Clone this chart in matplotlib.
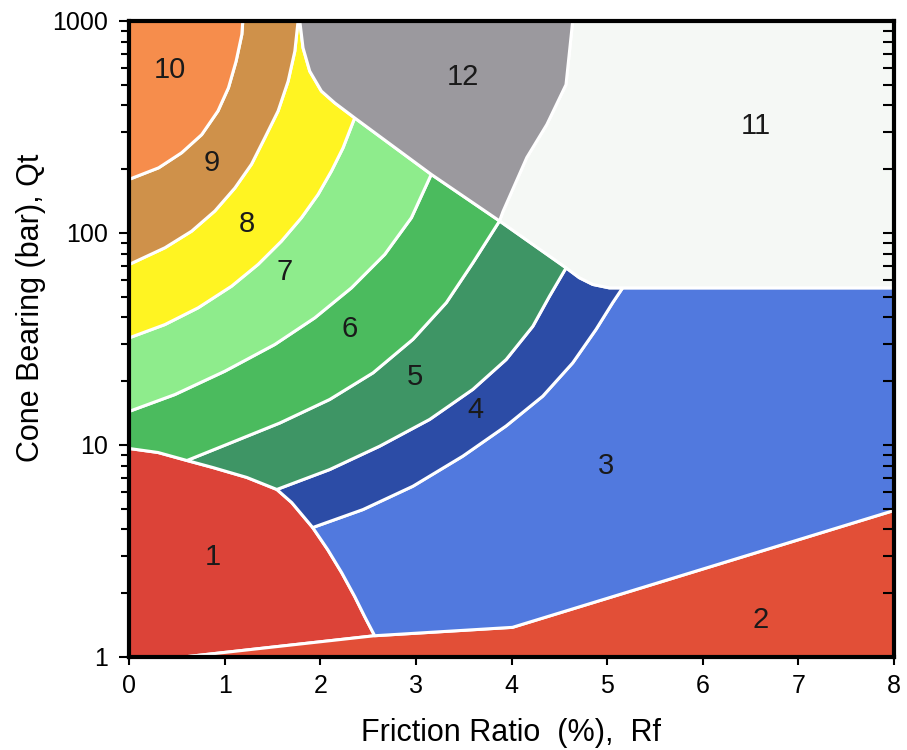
import numpy as np
import matplotlib
matplotlib.use("Agg")
import matplotlib.pyplot as plt
from matplotlib.ticker import FixedLocator, LogLocator, NullFormatter

plt.rcParams['font.family'] = ['Liberation Sans', 'DejaVu Sans']

# boundary curves, Rf (%) and Qt (bar)
rf_z1_top = [0.0, 0.303, 0.606, 0.877, 1.232, 1.546, 1.702, 1.921, 2.078, 2.224, 2.360, 2.465, 2.569]
qt_z1_top = [9.63, 9.22, 8.45, 7.83, 7.03, 6.17, 5.35, 4.08, 3.21, 2.50, 1.93, 1.55, 1.26]

rf_base = [0.57, 2.569, 4.01, 8.0]
qt_base = [1.0, 1.26, 1.38, 4.91]

rf_10_9 = [0.0, 0.31, 0.55, 0.76, 0.93, 1.04, 1.12, 1.18, 1.19]
qt_10_9 = [179, 203, 239, 291, 376, 484, 646, 864, 1000]

rf_9_8 = [0.0, 0.376, 0.655, 0.898, 1.107, 1.281, 1.420, 1.559, 1.664, 1.734, 1.768]
qt_9_8 = [71, 85.2, 102, 127, 163, 211, 281, 376, 520, 720, 1000]

rf_8_7 = [0.0, 0.376, 0.724, 1.072, 1.350, 1.594, 1.803, 1.977, 2.117, 2.238, 2.360]
qt_8_7 = [32.0, 37.0, 44.4, 56.1, 71.1, 91.5, 118, 152, 196, 252, 349]

rf_7_6 = [0.0, 0.480, 1.003, 1.525, 1.943, 2.326, 2.674, 2.953, 3.161]
qt_7_6 = [14.4, 17.3, 22.3, 29.8, 39.8, 55.1, 79.2, 118, 189]

rf_6_5 = [0.606, 1.055, 1.577, 2.099, 2.552, 2.969, 3.318, 3.596, 3.875]
qt_6_5 = [8.45, 10.2, 12.7, 16.4, 21.9, 31.5, 46.9, 72.3, 114]

rf_5_4 = [1.546, 2.099, 2.621, 3.144, 3.596, 3.944, 4.223, 4.397, 4.571]
qt_5_4 = [6.17, 7.66, 9.87, 13.2, 18.3, 25.3, 36.3, 50.3, 68.5]

rf_4_3 = [1.921, 2.447, 2.969, 3.491, 3.944, 4.327, 4.640, 4.884, 5.058, 5.162]
qt_4_3 = [4.08, 4.96, 6.39, 8.86, 12.3, 17.0, 24.4, 35.1, 46.9, 55.1]

rf_12_cusp = [1.786, 1.820, 1.890, 2.012, 2.151, 2.360]
qt_12_cusp = [1000, 747, 580, 467, 411, 349]

rf_12_low = [2.360, 3.161, 3.875]
qt_12_low = [349, 189, 114]

rf_12_11 = [4.64, 4.57, 4.37, 4.16, 3.91, 3.875]
qt_12_11 = [1000, 501, 325, 227, 126, 114]

rf_11_low = [3.875, 4.571, 4.710, 4.850, 5.023, 5.162, 8.0]
qt_11_low = [114, 68.5, 61.5, 57.2, 55.1, 55.1, 55.1]

zone_names = ['1', '2', '3', '4', '5', '6', '7', '8', '9', '10', '11', '12']
zone_colors = ['#dc4338', '#e24f37', '#5179de', '#2c4ca6', '#3e9565', '#4bbb5e',
               '#8eec8c', '#fff422', '#cf914a', '#f68d4c', '#f5f8f5', '#9b999e']
label_rf = [0.88, 6.61, 4.99, 3.62, 2.99, 2.31, 1.63, 1.23, 0.86, 0.43, 6.56, 3.49]
label_qt = [2.95, 1.49, 7.92, 14.7, 21.0, 35.1, 65.8, 110, 215, 590, 318, 547]


def seg(rf, qt, a=None, b=None, rev=False):
    pts = list(zip(rf, qt))[a:b]
    return pts[::-1] if rev else pts


polys = [
    # 1
    [(0.0, 1.0)] + seg(rf_z1_top, qt_z1_top) + [(rf_base[0], qt_base[0])],
    # 2
    seg(rf_base, qt_base) + [(8.0, 1.0)],
    # 3
    seg(rf_z1_top, qt_z1_top, 7) + seg(rf_base, qt_base, 1) + [(8.0, qt_11_low[-1])]
    + seg(rf_4_3, qt_4_3, rev=True),
    # 4
    seg(rf_z1_top, qt_z1_top, 5, 8) + seg(rf_4_3, qt_4_3) + seg(rf_11_low, qt_11_low, 1, 6, rev=True)
    + seg(rf_5_4, qt_5_4, rev=True),
    # 5
    seg(rf_z1_top, qt_z1_top, 2, 6) + seg(rf_5_4, qt_5_4) + seg(rf_11_low, qt_11_low, 0, 2, rev=True)
    + seg(rf_6_5, qt_6_5, rev=True),
    # 6
    seg(rf_z1_top, qt_z1_top, 0, 3) + seg(rf_6_5, qt_6_5) + seg(rf_12_low, qt_12_low, 1, None, rev=True)
    + seg(rf_7_6, qt_7_6, rev=True),
    # 7
    seg(rf_7_6, qt_7_6) + seg(rf_12_low, qt_12_low, 0, 2, rev=True) + seg(rf_8_7, qt_8_7, rev=True),
    # 8
    seg(rf_8_7, qt_8_7) + seg(rf_12_cusp, qt_12_cusp, rev=True) + seg(rf_9_8, qt_9_8, rev=True),
    # 9
    seg(rf_9_8, qt_9_8) + seg(rf_10_9, qt_10_9, rev=True),
    # 10
    seg(rf_10_9, qt_10_9) + [(0.0, 1000)],
    # 11
    [(rf_12_11[0], 1000), (8.0, 1000)] + seg(rf_11_low, qt_11_low, rev=True) + seg(rf_12_11, qt_12_11, rev=True),
    # 12
    seg(rf_12_cusp, qt_12_cusp) + seg(rf_12_low, qt_12_low, 1) + seg(rf_12_11, qt_12_11, rev=True),
]

fig = plt.figure(figsize=(9.07, 7.5), dpi=100)
ax = fig.add_axes([129 / 907, 1 - 657 / 750, 765 / 907, 636 / 750])
ax.set_yscale('log')

for pts, c in zip(polys, zone_colors):
    xs, ys = zip(*pts)
    ax.fill(xs, ys, facecolor=c, edgecolor='white', linewidth=2.2, joinstyle='round', zorder=1)

for name, x, y in zip(zone_names, label_rf, label_qt):
    ax.text(x, y, name, ha='center', va='center', fontsize=21, color='#1a1a1a', zorder=3)

ax.set_xlim(0, 8)
ax.set_ylim(1, 1000)
ax.set_xticks(range(0, 9))
ax.set_xticklabels([str(i) for i in range(0, 9)])
ax.yaxis.set_major_locator(FixedLocator([1, 10, 100, 1000]))
ax.set_yticklabels(['1', '10', '100', '1000'])
ax.yaxis.set_minor_locator(LogLocator(base=10, subs=np.arange(2, 10)))
ax.yaxis.set_minor_formatter(NullFormatter())
ax.tick_params(axis='y', which='major', direction='out', length=7, width=1.5, labelsize=18, pad=8)
ax.tick_params(axis='y', which='minor', direction='out', length=6, width=1.5)
ax.tick_params(axis='x', which='major', direction='out', length=6, width=1.5, labelsize=18, pad=6)
for s in ax.spines.values():
    s.set_linewidth(3)
    s.set_zorder(5)

ax2 = ax.twinx()
ax2.set_yscale('log')
ax2.set_ylim(1, 1000)
ax2.yaxis.set_major_locator(FixedLocator([1, 10, 100, 1000]))
ax2.yaxis.set_minor_locator(LogLocator(base=10, subs=np.arange(2, 10)))
ax2.yaxis.set_minor_formatter(NullFormatter())
ax2.tick_params(axis='y', which='both', direction='in', length=8, width=1.5, labelright=False)
for s in ax2.spines.values():
    s.set_visible(False)

fig.text(511 / 907, 1 - 733 / 750, 'Friction Ratio  (%),  Rf', ha='center', va='center', fontsize=22)
fig.text(31 / 907, 1 - 308 / 750, 'Cone Bearing (bar), Qt', ha='center', va='center',
         rotation=90, fontsize=22)

fig.savefig('out.png', dpi=100, facecolor='white')
